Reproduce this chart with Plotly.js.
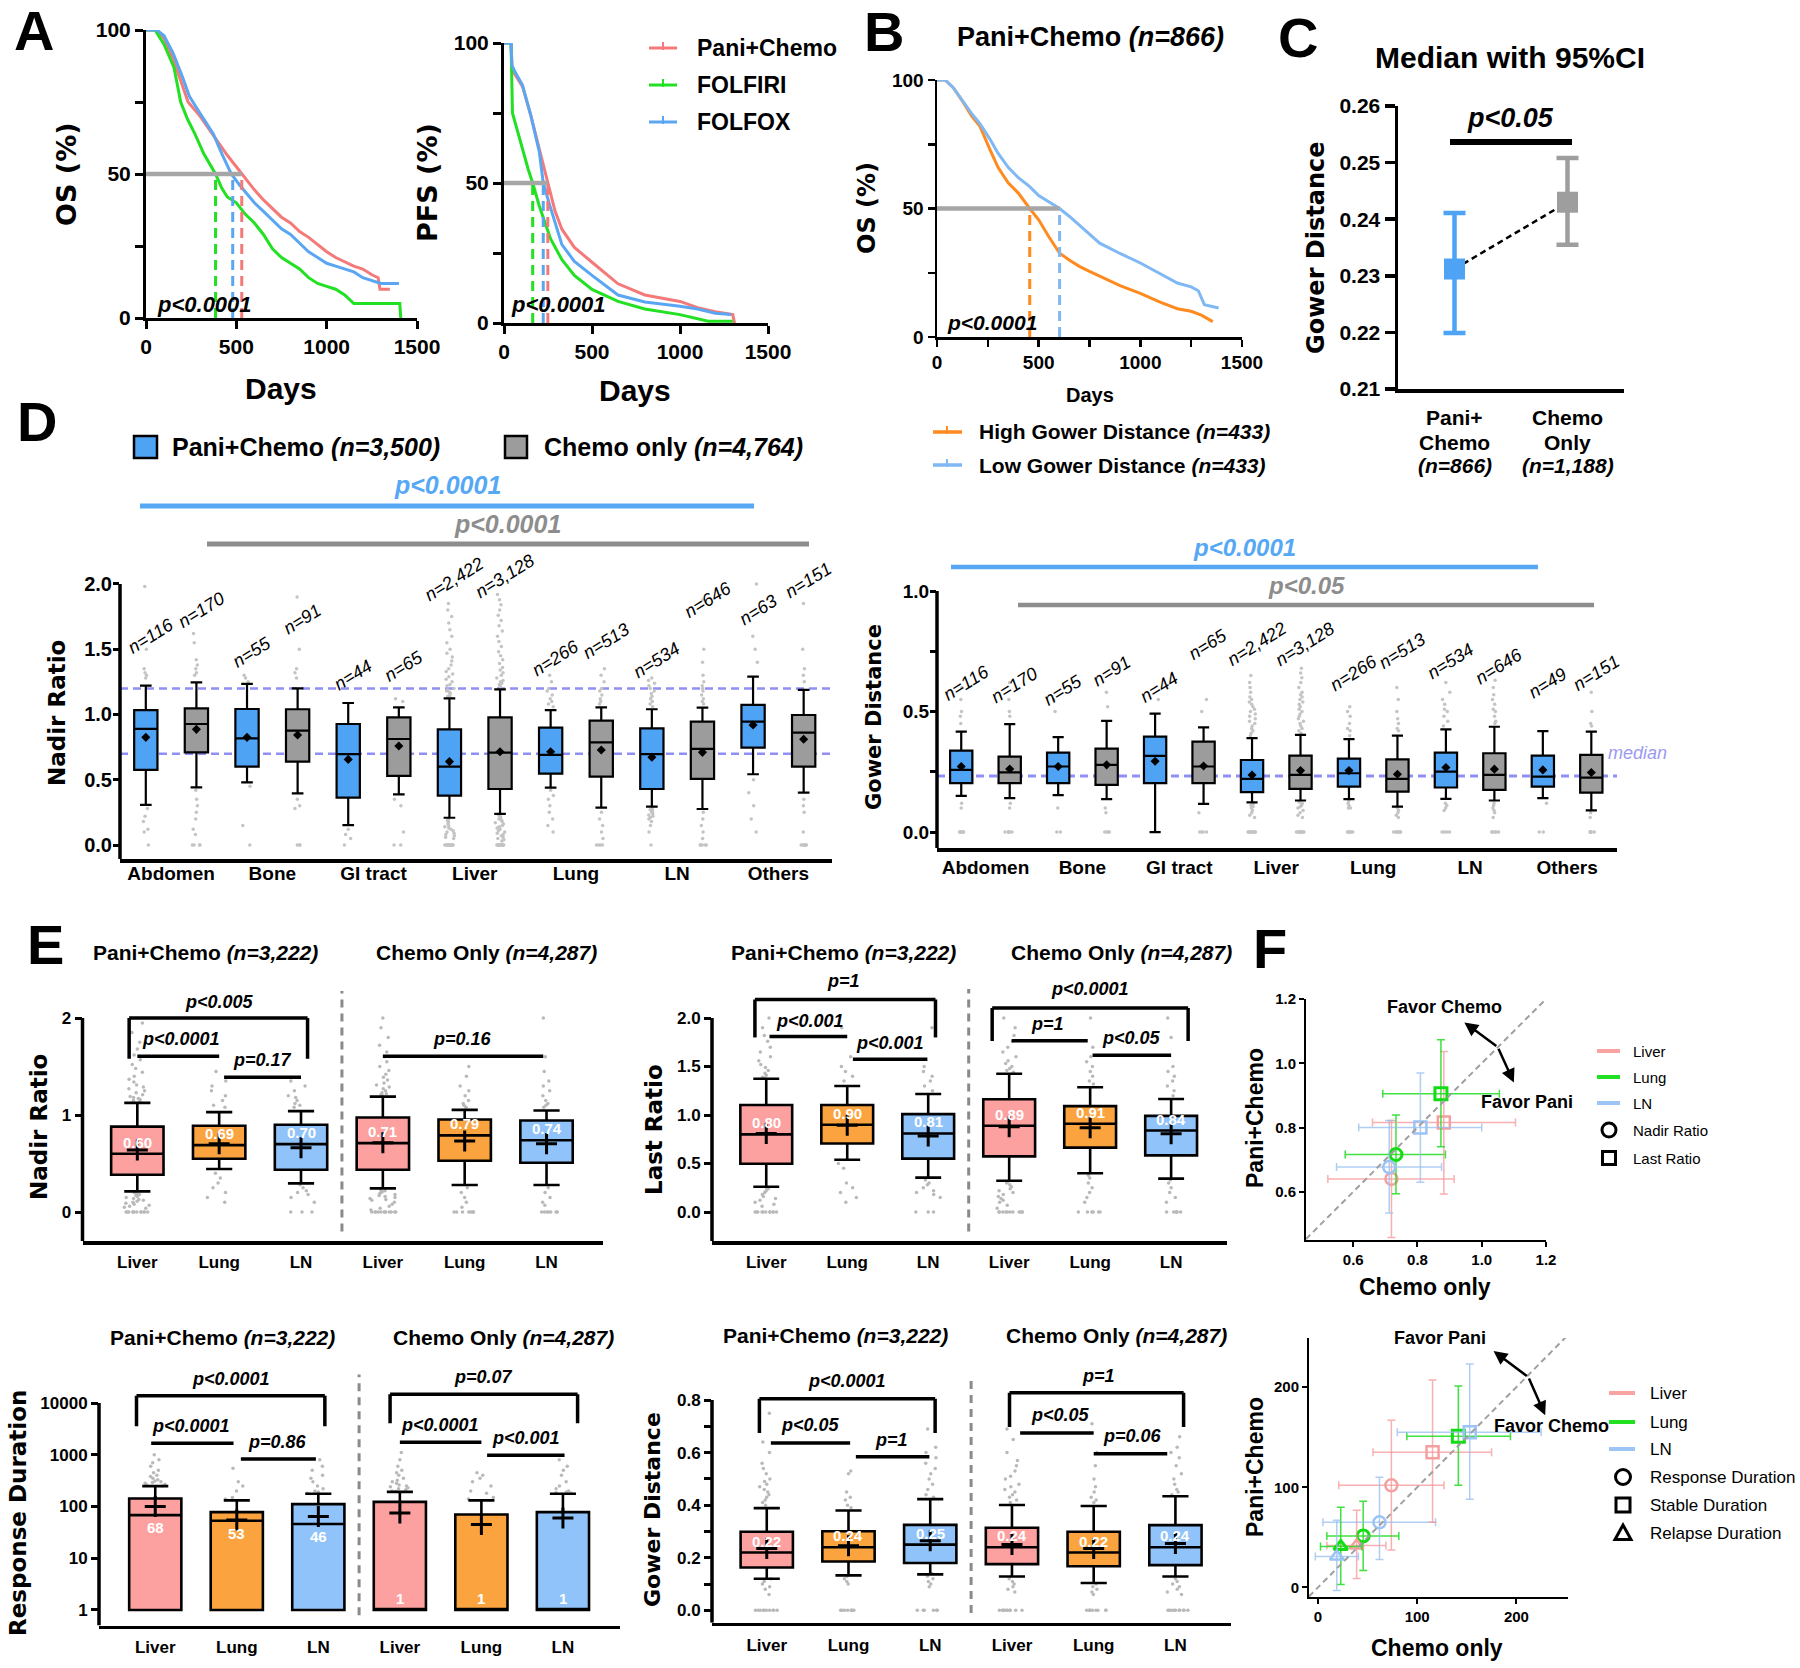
<!DOCTYPE html>
<html>
<head>
<meta charset="utf-8">
<script src="https://cdn.plot.ly/plotly-3.0.1.min.js"></script>
<style>
html,body{margin:0;padding:0;background:#ffffff;}
#chart{width:1800px;height:1668px;}
</style>
</head>
<body>
<div id="chart"></div>
<script>
// ======================= DATA =======================
// ---- Panel A: Kaplan-Meier curves (days, % event-free)
const osPaniT=[0,60,100,150,200,233,300,350,400,450,500,530,600,650,700,750,800,850,900,950,1000,1050,1100,1150,1200,1250,1285,1295,1350];
const osPaniS=[100,100,97,90,81,75,70,65.5,61,56.5,52.5,50,44.5,41,38,35,33,30,28,25.5,23,21,19.5,18,17,15,14,10,10];
const osFolfiriT=[0,50,100,155,192,230,270,320,385,420,450,500,550,600,650,700,750,800,850,900,950,1000,1050,1100,1150,1300,1405,1410];
const osFolfiriS=[100,100,95,87,75,69,64,57,50,45,42,40,36,33,29,24,21,19,17,14,12,11,10,8,5,5,5,0];
const osFolfoxT=[0,60,100,150,200,240,300,372,420,472,520,560,600,650,700,750,800,850,900,950,1000,1050,1100,1150,1200,1250,1300,1400];
const osFolfoxS=[100,100,98,92,84,77,71,64,57,50,46,43,40,37,34,31,29,26,23,21,19,18,17,16,14,13,12,12];
const osMedians=[530,385,480];           // Pani+Chemo, FOLFIRI, FOLFOX
const pfsPaniT=[0,40,45,60,105,153,201,249,290,329,400,500,648,800,1000,1100,1200,1300,1310];
const pfsPaniS=[100,100,92,89,84.5,74,62,50,40,33.5,27,21.7,14,10,7.7,5.5,4,3,0];
const pfsFolfiriT=[0,40,48,89,137,163,201,265,329,400,500,648,800,1000,1160,1300];
const pfsFolfiriS=[100,100,75,65.5,55,50,41.7,30,22.6,17,12,7.7,5,3,0.6,0.6];
const pfsFolfoxT=[0,40,45,60,105,153,201,223,260,300,329,400,500,648,800,1000,1100,1200,1290];
const pfsFolfoxS=[100,100,92,90,85,74,61,50,42,34,28,22,17,10,7.5,6,5,3.5,3];
const pfsMedians=[249,163,223];
const aNames=['Pani+Chemo','FOLFIRI','FOLFOX'];

// ---- Panel B
const bHighT=[0,40,80,123,170,211,260,300,350,400,456,500,550,603,650,700,750,800,900,1000,1100,1182,1250,1300,1356];
const bHighS=[100,100,97,92,86,82,73,66,60,56,50,45.6,39,32.6,30,27.5,25.5,23.6,20,17,13.5,11,10,8.5,6];
const bLowT=[0,40,80,123,170,211,260,300,350,400,456,500,550,603,650,700,750,800,900,1000,1100,1182,1250,1285,1315,1385];
const bLowS=[100,100,97,92,87,83,77,71.5,66,62,58.5,55,52.5,50,47,43.5,40,36.5,32.5,28.8,24.5,21,19.5,18,12.6,11.3];
const bMedians=[456,603];
const bNames=['High Gower Distance <i>(n=433)</i>','Low Gower Distance <i>(n=433)</i>'];

// ---- Panel C: median Gower distance with 95% CI
const cGroups=[['Pani+','Chemo','<i>(n=866)</i>'],['Chemo','Only','<i>(n=1,188)</i>']];
const cMedian=[0.2312,0.2430];
const cLow=[0.2199,0.2355];
const cHigh=[0.2411,0.2508];

// ---- Panel D (order: Abdomen P,C, Bone P,C, GI P,C, Liver P,C, Lung P,C, LN P,C, Others P,C)
const dSites=['Abdomen','Bone','GI tract','Liver','Lung','LN','Others'];
const dNadirN=['n=116','n=170','n=55','n=91','n=44','n=65','n=2,422','n=3,128','n=266','n=513','n=534','n=646','n=63','n=151'];
const dGowerN=['n=116','n=170','n=55','n=91','n=44','n=65','n=2,422','n=3,128','n=266','n=513','n=534','n=646','n=49','n=151'];
const dNadirQ1=[0.575,0.71,0.60,0.639,0.363,0.529,0.378,0.429,0.547,0.524,0.429,0.506,0.746,0.60];
const dNadirMed=[0.889,0.927,0.817,0.876,0.697,0.812,0.60,0.708,0.69,0.787,0.697,0.736,0.945,0.861];
const dNadirQ3=[1.034,1.047,1.042,1.04,0.927,0.978,0.886,0.978,0.899,0.953,0.894,0.945,1.073,0.996];
const dNadirLo=[0.307,0.442,0.48,0.396,0.153,0.388,0.209,0.238,0.439,0.286,0.294,0.276,0.542,0.401];
const dNadirHi=[1.221,1.246,1.234,1.20,1.088,1.055,1.124,1.193,1.034,1.055,1.04,1.052,1.29,1.188];
const dNadirMean=[0.825,0.886,0.825,0.843,0.656,0.759,0.639,0.715,0.715,0.728,0.672,0.71,0.92,0.81];
const dNadirOut=[
 [1.98,1.5,1.35,1.32,1.3,1.28,0.28,0.22,0.18,0.12,0.1,0],
 [1.62,1.55,1.42,1.38,1.35,1.32,1.3,0.42,0.35,0.3,0.25,0.2,0.12,0.08,0,0,0,0],
 [1.3,1.28,1.25,0.45,0.15,0],
 [1.9,1.5,1.35,1.32,1.28,0.35,0.3,0.28,0,0,0],
 [0.12,0.08,0.05,0],
 [1.12,1.1,0.35,0.3,0.1,0,0],
 [1.85,1.8,1.75,1.7,1.65,1.6,1.55,1.5,1.47,1.44,1.41,1.38,1.35,1.33,1.31,1.29,1.27,1.25,1.23,1.22,1.2,1.19,1.18,1.17,1.16,1.15,1.14,1.13,0.2,0.19,0.18,0.17,0.16,0.15,0.14,0.13,0.12,0.11,0.1,0.09,0.08,0.07,0.06,0.05,0,0,0,0,0,0,0,0,0,0,0,0],
 [1.92,1.88,1.84,1.8,1.76,1.72,1.68,1.64,1.6,1.56,1.52,1.48,1.45,1.42,1.39,1.36,1.34,1.32,1.3,1.28,1.26,1.25,1.24,1.23,1.22,1.21,1.2,0.23,0.22,0.21,0.2,0.19,0.18,0.17,0.16,0.15,0.14,0.13,0.12,0.11,0.1,0.09,0.08,0.07,0.06,0.05,0.04,0.03,0,0,0,0,0,0,0,0,0,0,0,0,0,0],
 [1.3,1.25,1.2,1.18,1.15,1.12,1.1,1.08,1.06,0.42,0.38,0.35,0.3,0.25,0.2,0.15,0.1],
 [1.35,1.3,1.25,1.2,1.18,1.15,1.12,1.1,1.08,0.25,0.2,0.15,0.1,0.05,0,0,0,0],
 [1.28,1.26,1.24,1.22,1.2,1.18,1.16,1.14,1.12,1.1,1.08,1.06,0.28,0.27,0.26,0.25,0.24,0.23,0.22,0.21,0.2,0.18,0.15,0.1,0],
 [1.88,1.5,1.4,1.3,1.25,1.22,1.2,1.18,1.15,1.12,1.1,1.08,0.25,0.2,0.15,0.1,0.05,0,0,0,0,0],
 [2.0,1.6,1.5,1.4,0.5,0.4,0.3,0.2,0.1],
 [1.85,1.5,1.35,1.3,1.25,0.35,0.3,0.25,0.1,0,0,0,0,0,0,0]
];
const dGowerQ1=[0.203,0.203,0.203,0.196,0.203,0.203,0.166,0.179,0.189,0.168,0.185,0.175,0.189,0.164];
const dGowerMed=[0.258,0.248,0.272,0.279,0.316,0.272,0.221,0.237,0.244,0.221,0.251,0.237,0.23,0.226];
const dGowerQ3=[0.338,0.313,0.33,0.346,0.396,0.375,0.299,0.317,0.305,0.302,0.33,0.327,0.317,0.32];
const dGowerLo=[0.15,0.141,0.153,0.137,0.0,0.117,0.123,0.131,0.137,0.106,0.138,0.131,0.141,0.09];
const dGowerHi=[0.417,0.448,0.394,0.461,0.491,0.434,0.39,0.403,0.386,0.40,0.426,0.437,0.419,0.417];
const dGowerMean=[0.272,0.262,0.272,0.279,0.294,0.274,0.237,0.255,0.255,0.24,0.268,0.261,0.258,0.247];
const dGowerAllMedian=0.233;
const dGowerOut=[
 [0.6,0.55,0.5,0.48,0.45,0.12,0.1,0,0,0,0,0,0],
 [0.62,0.55,0.5,0.48,0.12,0.1,0,0,0,0,0,0],
 [0.55,0.5,0.1,0,0],
 [0.58,0.52,0.1,0.08,0,0,0,0],
 [0.55],
 [0.55,0.5,0.08,0,0,0,0],
 [0.65,0.62,0.6,0.58,0.56,0.55,0.54,0.53,0.52,0.51,0.5,0.49,0.48,0.47,0.46,0.45,0.44,0.43,0.42,0.41,0.4,0.12,0.115,0.11,0.105,0.1,0.09,0.08,0.07,0.06,0,0,0,0,0,0,0,0,0,0],
 [0.68,0.66,0.64,0.62,0.6,0.58,0.57,0.56,0.55,0.54,0.53,0.52,0.51,0.5,0.49,0.48,0.47,0.46,0.45,0.44,0.43,0.42,0.41,0.125,0.12,0.115,0.11,0.105,0.1,0.09,0.08,0.07,0.06,0,0,0,0,0,0,0,0,0,0],
 [0.52,0.5,0.48,0.45,0.43,0.42,0.4,0.13,0.12,0.11,0.1,0.1,0,0,0,0,0,0],
 [0.6,0.55,0.5,0.47,0.45,0.43,0.42,0.1,0.09,0.08,0.07,0.06,0,0,0,0,0,0,0,0],
 [0.62,0.58,0.55,0.53,0.51,0.5,0.48,0.46,0.44,0.12,0.11,0.1,0.09,0,0,0,0],
 [0.63,0.6,0.57,0.55,0.53,0.51,0.5,0.48,0.46,0.45,0.12,0.11,0.1,0.09,0.08,0.06,0,0,0,0,0,0],
 [0.12,0,0],
 [0.58,0.5,0.45,0.44,0.08,0.06,0,0,0,0,0,0]
];

// ---- Panel E (order: Pani Liver, Lung, LN, Chemo Liver, Lung, LN)
const eSites=['Liver','Lung','LN','Liver','Lung','LN'];
const eNadirQ1=[0.384,0.549,0.436,0.436,0.528,0.508];
const eNadirMed=[0.60,0.69,0.70,0.71,0.79,0.74];
const eNadirQ3=[0.88,0.89,0.90,0.974,0.954,0.943];
const eNadirLo=[0.213,0.443,0.295,0.244,0.278,0.278];
const eNadirHi=[1.125,1.03,1.04,1.19,1.053,1.046];
const eNadirMean=[0.64,0.703,0.662,0.714,0.731,0.703];
const eNadirOut=[
 [1.95,1.85,1.75,1.68,1.62,1.57,1.52,1.48,1.44,1.4,1.37,1.34,1.31,1.29,1.27,1.25,1.23,1.21,1.19,1.18,1.17,1.16,1.15,1.14,1.13,0.2,0.19,0.18,0.17,0.16,0.15,0.14,0.13,0.12,0.11,0.1,0.09,0.08,0.07,0.06,0.05,0.04,0,0,0,0,0,0,0,0,0,0,0,0],
 [1.45,1.35,1.3,1.25,1.2,1.15,1.1,1.08,0.4,0.35,0.3,0.25,0.2,0.15,0.1],
 [1.35,1.3,1.25,1.2,1.18,1.15,1.12,1.1,1.08,0.28,0.25,0.22,0.2,0.18,0.15,0.1,0,0,0],
 [2.0,1.9,1.8,1.72,1.65,1.6,1.55,1.5,1.46,1.42,1.39,1.36,1.33,1.31,1.29,1.27,1.25,1.23,1.22,1.21,1.2,0.23,0.22,0.21,0.2,0.19,0.18,0.17,0.16,0.15,0.14,0.13,0.12,0.1,0.08,0.06,0.04,0.02,0,0,0,0,0,0,0,0,0,0,0,0],
 [1.5,1.4,1.3,1.25,1.2,1.15,1.12,1.1,1.08,0.25,0.2,0.15,0.1,0.05,0,0,0,0,0,0,0],
 [2.0,1.6,1.45,1.35,1.3,1.25,1.2,1.15,1.12,1.1,1.08,0.25,0.2,0.15,0.1,0.07,0,0,0,0,0,0,0]
];
const eLastQ1=[0.497,0.706,0.55,0.574,0.664,0.584];
const eLastMed=[0.80,0.90,0.81,0.89,0.91,0.84];
const eLastQ3=[1.103,1.103,1.009,1.162,1.092,0.991];
const eLastLo=[0.261,0.539,0.355,0.323,0.40,0.344];
const eLastHi=[1.374,1.30,1.217,1.426,1.287,1.165];
const eLastMean=[0.81,0.894,0.783,0.88,0.87,0.807];
const eLastOut=[
 [2.0,1.9,1.82,1.76,1.7,1.65,1.6,1.56,1.52,1.49,1.46,1.43,1.41,1.39,1.38,0.25,0.24,0.22,0.2,0.18,0.16,0.14,0.12,0.1,0.08,0.06,0,0,0,0,0,0,0,0,0,0,0],
 [1.9,1.6,1.5,1.45,1.4,1.35,0.5,0.45,0.3,0.25,0.2,0.15,0.1],
 [1.9,1.5,1.45,1.4,1.35,1.3,1.25,0.33,0.3,0.28,0.25,0.22,0.2,0.18,0.15,0,0,0],
 [2.0,1.9,1.82,1.76,1.7,1.65,1.6,1.56,1.53,1.5,1.48,1.46,1.44,0.31,0.3,0.28,0.26,0.24,0.22,0.2,0.18,0.16,0.14,0.12,0.1,0.07,0.04,0,0,0,0,0,0,0,0,0,0,0],
 [2.0,1.7,1.6,1.55,1.5,1.45,1.4,1.35,1.32,0.38,0.35,0.3,0.25,0.2,0.15,0.1,0,0,0,0,0,0],
 [2.0,1.8,1.5,1.45,1.4,1.35,1.3,1.25,1.2,0.33,0.3,0.25,0.2,0.15,0.1,0,0,0,0,0,0]
];
const eRespQ1=[1,1,1,1,1,1];
const eRespMed=[68,53,46,1,1,1];
const eRespQ3=[143,78,111,123,70,78];
const eRespLo=[1,1,1,1,1,1];
const eRespHi=[247,131,176,192,131,176];
const eRespMean=[100,55,64,75,45,60];
const eRespOut=[
 [1000,800,700,600,500,450,400,380,350,330,310,300,290,280,270,260,250],
 [550,300,250,200,150,140],
 [800,600,500,400,350,300,250,220,200,190,180],
 [1100,800,600,500,450,400,350,320,300,280,260,250,240,230,220,210,200,195],
 [450,400,350,300,250,200,180,150,140],
 [800,600,500,400,300,250,220,200,190,185,180]
];
const eGowerQ1=[0.163,0.186,0.18,0.176,0.168,0.172];
const eGowerMed=[0.22,0.24,0.25,0.24,0.22,0.24];
const eGowerQ3=[0.299,0.301,0.325,0.314,0.299,0.324];
const eGowerLo=[0.12,0.133,0.137,0.129,0.104,0.129];
const eGowerHi=[0.389,0.38,0.423,0.401,0.397,0.434];
const eGowerMean=[0.235,0.246,0.265,0.25,0.235,0.254];
const eGowerOut=[
 [0.75,0.64,0.6,0.56,0.54,0.52,0.5,0.49,0.48,0.47,0.46,0.45,0.44,0.43,0.42,0.41,0.4,0.12,0.11,0.1,0.09,0.08,0.06,0,0,0,0,0,0,0,0,0,0],
 [0.53,0.52,0.45,0.43,0.42,0.4,0.39,0.13,0.12,0.11,0.1,0,0,0,0,0,0,0,0],
 [0.69,0.62,0.6,0.58,0.56,0.54,0.52,0.5,0.48,0.46,0.44,0.43,0.14,0.13,0.12,0.11,0.1,0.09,0,0,0,0,0,0],
 [0.69,0.65,0.6,0.57,0.55,0.53,0.51,0.5,0.48,0.47,0.46,0.45,0.44,0.43,0.42,0.41,0.12,0.11,0.1,0.09,0.08,0.07,0,0,0,0,0,0,0,0,0,0],
 [0.71,0.6,0.55,0.5,0.47,0.45,0.43,0.42,0.41,0.1,0.09,0.08,0.07,0.06,0,0,0,0,0,0,0,0,0],
 [0.66,0.62,0.6,0.58,0.55,0.52,0.5,0.48,0.46,0.45,0.44,0.12,0.11,0.1,0.09,0.08,0.07,0.06,0,0,0,0,0,0,0,0,0,0]
];

// ---- Panel F (sites Liver, Lung, LN) x = Chemo only, y = Pani+Chemo
const fSites=['Liver','Lung','LN'];
const fNadirChemo=[0.719,0.733,0.712], fNadirChemoLo=[0.521,0.575,0.548], fNadirChemoHi=[0.914,0.887,0.875];
const fNadirPani=[0.640,0.716,0.677],  fNadirPaniLo=[0.458,0.594,0.534],  fNadirPaniHi=[0.822,0.839,0.822];
const fLastChemo=[0.882,0.873,0.809],  fLastChemoLo=[0.660,0.692,0.617],  fLastChemoHi=[1.105,1.055,1.000];
const fLastPani=[0.816,0.905,0.800],   fLastPaniLo=[0.593,0.740,0.630],   fLastPaniHi=[1.037,1.073,0.970];
const fRespChemo=[74,45.6,62],   fRespChemoLo=[21,9,5],      fRespChemoHi=[127,81.5,118.5];
const fRespPani=[102,51.5,65],   fRespPaniLo=[37.5,17,28],   fRespPaniHi=[167,86,110];
const fStableChemo=[115.5,141.5,153], fStableChemoLo=[55.5,89.6,80], fStableChemoHi=[175,194,225];
const fStablePani=[135,151,155],      fStablePaniLo=[65,102,88],     fStablePaniHi=[207,201,223];
const fRelapseChemo=[39,23,19], fRelapseChemoLo=[9,2.6,-2.6], fRelapseChemoHi=[68.5,44.4,40.7];
const fRelapsePani=[42,41,31],  fRelapsePaniLo=[9,3,-3],      fRelapsePaniHi=[77,80,67];

// ======================= DRAWING =======================
const W=1800,H=1668;
const FB='Liberation Sans, Arial, Helvetica, sans-serif';
const FT='DejaVu Sans, Verdana, sans-serif';
const traces=[],shapes=[],ann=[];
const xa=n=>n===1?'x':'x'+n, ya=n=>n===1?'y':'y'+n;
const tf=s=>({family:FB,size:s,color:'#000',weight:'bold'});
const layout={width:W,height:H,margin:{l:0,r:0,t:0,b:0,pad:0},paper_bgcolor:'#ffffff',plot_bgcolor:'rgba(0,0,0,0)',
  showlegend:false,boxmode:'overlay',font:{family:FB,color:'#000'},shapes:shapes,annotations:ann};

function axes(n,xpx,xr,ypx,yr,xo,yo){
  const id=n===1?'':String(n);
  const base={showgrid:false,zeroline:false,showline:true,linecolor:'#000',linewidth:3,ticks:'outside',tickcolor:'#000',
    tickwidth:3,ticklen:8,fixedrange:true,tickfont:tf(20)};
  layout['xaxis'+id]=Object.assign({},base,{domain:[xpx[0]/W,xpx[1]/W],range:xr,anchor:ya(n)},xo||{});
  layout['yaxis'+id]=Object.assign({},base,{domain:[1-ypx[1]/H,1-ypx[0]/H],range:yr,anchor:xa(n)},yo||{});
}
function T(text,x,y,size,o){o=o||{};ann.push({text:text,xref:'paper',yref:'paper',x:x/W,y:1-y/H,showarrow:false,
  xanchor:o.xa||'center',yanchor:o.ya||'middle',textangle:o.angle||0,
  font:{family:o.family||FB,size:size,color:o.color||'#000',weight:o.weight||'bold',style:o.style||'normal'}});}
function L(x0,y0,x1,y1,color,width,dash){shapes.push({type:'line',xref:'paper',yref:'paper',x0:x0/W,y0:1-y0/H,x1:x1/W,y1:1-y1/H,
  line:{color:color,width:width,dash:dash||'solid'}});}
function yLine(n,y0,y1,w){shapes.push({type:'line',xref:xa(n)+' domain',yref:ya(n),x0:0,x1:0,y0:y0,y1:y1,line:{color:'#000',width:w}});}
function line(n,x,y,color,width,dash){traces.push({type:'scatter',mode:'lines',x:x,y:y,xaxis:xa(n),yaxis:ya(n),
  line:{color:color,width:width,dash:dash||'solid'},hoverinfo:'skip'});}

// Panel letters
[['A',34,31],['B',884,32],['C',1298,38],['D',37,422],['E',45,944],['F',1270,948]].forEach(p=>T(p[0],p[1],p[2],56));

// ---------- Panel A ----------
const aCols=['#f47a7a','#22e022','#5aa6f2'];
const aTick={tickvals:[0,500,1000,1500],tickfont:tf(21)};
const aYTick={tickvals:[0,25,50,75,100],ticktext:['0','','50','','100'],tickfont:tf(21)};
axes(1,[146,417],[0,1500],[30,318],[0,100],aTick,aYTick);
axes(2,[504,768],[0,1500],[43,323],[0,100],aTick,aYTick);
function kmPanel(n,curves,meds,cols){
  curves.forEach((c,i)=>line(n,c[0],c[1],cols[i],3));
  line(n,[0,Math.max(...meds)],[50,50],'#a6a6a6',4.5);
  meds.forEach((m,i)=>line(n,[m,m],[0,50],cols[i],3,'10px,6px'));
}
kmPanel(1,[[osPaniT,osPaniS],[osFolfiriT,osFolfiriS],[osFolfoxT,osFolfoxS]],osMedians,aCols);
kmPanel(2,[[pfsPaniT,pfsPaniS],[pfsFolfiriT,pfsFolfiriS],[pfsFolfoxT,pfsFolfoxS]],pfsMedians,aCols);
T('OS (%)',66,174,27,{angle:-90,family:FT});
T('PFS (%)',428,183,27,{angle:-90,family:FT});
T('Days',281,388,30); T('Days',635,390,30);
T('p&lt;0.0001',204,305,22,{style:'italic'}); T('p&lt;0.0001',558,305,22,{style:'italic'});
aNames.forEach((nm,i)=>{const y=[48,85,122][i];L(649,y,677,y,aCols[i],3);L(663,y-6,663,y+2,aCols[i],2);T(nm,695,y,23,{xa:'left'});});

// ---------- Panel B ----------
const bCols=['#ff8a1f','#7fb8f5'];
const bAx={linewidth:2.5,tickwidth:2.5,ticklen:7,tickfont:tf(19)};
axes(3,[937,1242],[0,1500],[80,337],[0,100],
  Object.assign({},bAx,{tickvals:[0,250,500,750,1000,1250,1500],ticktext:['0','','500','','1000','','1500']}),
  Object.assign({},bAx,{tickvals:[0,25,50,75,100],ticktext:['0','','50','','100']}));
kmPanel(3,[[bHighT,bHighS],[bLowT,bLowS]],bMedians,bCols);
T('Pani+Chemo <i>(n=866)</i>',1090,37,27);
T('OS (%)',867,208,24,{angle:-90,family:FT});
T('Days',1090,395,20);
T('p&lt;0.0001',992,322,21,{style:'italic'});
bNames.forEach((nm,i)=>{const y=[432,465][i];L(933,y,962,y,bCols[i],3.5);L(947,y-6,947,y+2,bCols[i],2);T(nm,977,y,21,{xa:'left'});});

// ---------- Panel C ----------
axes(4,[1398,1624],[-0.5,1.5],[106,389],[0.21,0.26],{showticklabels:false,ticks:'',linewidth:3.5},
  {tickvals:[0.21,0.22,0.23,0.24,0.25,0.26],tickformat:'.2f',tickfont:tf(21),linewidth:3.5,tickwidth:3.5,ticklen:10});
const cCols=['#4ea3f5','#9e9e9e'];
line(4,[0,1],cMedian,'#000',2.5,'6px,4px');
cMedian.forEach((m,i)=>traces.push({type:'scatter',mode:'markers',x:[i],y:[m],xaxis:'x4',yaxis:'y4',
  marker:{symbol:'square',size:21,color:cCols[i]},hoverinfo:'skip',
  error_y:{type:'data',symmetric:false,array:[cHigh[i]-m],arrayminus:[m-cLow[i]],color:cCols[i],thickness:4.5,width:11}}));
T('Median with 95%CI',1510,57,30);
T('Gower Distance',1316,248,24,{angle:-90,family:FT});
T('p&lt;0.05',1510,118,27,{style:'italic'});
L(1450,142,1572,142,'#000',6);
cGroups.forEach((lines,i)=>lines.forEach((t,j)=>ann.push({xref:'x4',yref:'paper',x:i,y:1-[417,442,465][j]/H,text:t,
  showarrow:false,xanchor:'center',yanchor:'middle',font:tf(21)})));

// ---------- Panel D ----------
const dBlue='#4ea3f5',dGray='#9c9c9c',pBlue='#56a8f4',pGray='#8d8d8d',lav='#8f8ff5';
function boxSet(n,q1,med,q3,lo,hi,mean,out,fills,bw,lw,ptCol,ptSize,meanMarker,jit){
  const X=xa(n),Y=ya(n);
  traces.push({type:'box',xaxis:X,yaxis:Y,x:out.flatMap((a,i)=>a.map(()=>i)),y:out.flat(),boxpoints:'all',jitter:jit,pointpos:0,
    width:bw*0.85,fillcolor:'rgba(0,0,0,0)',line:{color:'rgba(0,0,0,0)',width:0},marker:{color:ptCol,size:ptSize},hoverinfo:'skip'});
  q1.forEach((v,i)=>traces.push({type:'box',xaxis:X,yaxis:Y,x:[i],q1:[v],median:[med[i]],q3:[q3[i]],lowerfence:[lo[i]],upperfence:[hi[i]],
    width:bw,whiskerwidth:0.5,fillcolor:fills(i),line:{color:'#000',width:lw},boxpoints:false,hoverinfo:'skip'}));
  traces.push({type:'scatter',mode:'markers',xaxis:X,yaxis:Y,x:mean.map((_,i)=>i),y:mean,marker:meanMarker,hoverinfo:'skip'});
}
const dTickX={tickvals:dSites.map((_,i)=>2*i+0.5),ticktext:dSites,ticks:'',tickfont:tf(19),linewidth:3.5};
axes(5,[120,832],[-0.51,13.56],[466.5,859.1],[-0.108,2.9],Object.assign({},dTickX,{ticklabelstandoff:-5}),
  {showline:false,tickvals:[0,0.5,1,1.5,2],ticktext:['0.0','0.5','1.0','1.5','2.0'],tickfont:tf(20),ticklen:6,ticklabelstandoff:-3});
yLine(5,-0.108,2.0,3.5);
[0.7,1.2].forEach(v=>shapes.push({type:'line',layer:'below',xref:'x5 domain',yref:'y5',x0:0,x1:1,y0:v,y1:v,line:{color:lav,width:2.5,dash:'8px,5px'}}));
boxSet(5,dNadirQ1,dNadirMed,dNadirQ3,dNadirLo,dNadirHi,dNadirMean,dNadirOut,i=>i%2?dGray:dBlue,0.46,2.2,'#c4c4c4',3.5,
  {symbol:'diamond',size:7,color:'#000'},0.5);
const dNadirNY=[1.6,1.8,1.48,1.73,1.3,1.37,2.04,2.06,1.43,1.56,1.42,1.88,1.8,2.03];
dNadirN.forEach((t,i)=>ann.push({xref:'x5',yref:'y5',x:i+0.1,y:dNadirNY[i],text:t,showarrow:false,textangle:-32,
  font:{family:FB,size:18,color:'#000',style:'italic',weight:'normal'}}));
T('Nadir Ratio',57,713,23,{angle:-90,family:FT});
shapes.push({type:'rect',xref:'paper',yref:'paper',x0:134/W,x1:157/W,y0:1-458/H,y1:1-436/H,fillcolor:dBlue,line:{color:'#000',width:2.5}});
shapes.push({type:'rect',xref:'paper',yref:'paper',x0:505/W,x1:527/W,y0:1-458/H,y1:1-436/H,fillcolor:dGray,line:{color:'#000',width:2.5}});
T('Pani+Chemo <i>(n=3,500)</i>',170,447,25,{xa:'left'});
T('Chemo only <i>(n=4,764)</i>',542,447,25,{xa:'left'});
L(140,506,754,506,pBlue,5); T('p&lt;0.0001',447,485,25,{style:'italic',color:pBlue});
L(207,544,809,544,pGray,5); T('p&lt;0.0001',507,524,25,{style:'italic',color:pGray});

axes(6,[937,1617],[-0.5,13.53],[530.75,848],[-0.066,1.25],Object.assign({},dTickX,{ticklabelstandoff:0}),
  {showline:false,tickvals:[0,0.25,0.5,0.75,1],ticktext:['0.0','','0.5','','1.0'],tickfont:tf(19),ticklen:6,ticklabelstandoff:-3});
yLine(6,-0.066,1.0,3.5);
shapes.push({type:'line',layer:'below',xref:'x6 domain',yref:'y6',x0:0,x1:1,y0:dGowerAllMedian,y1:dGowerAllMedian,line:{color:lav,width:3,dash:'8px,5px'}});
boxSet(6,dGowerQ1,dGowerMed,dGowerQ3,dGowerLo,dGowerHi,dGowerMean,dGowerOut,i=>i%2?dGray:dBlue,0.46,2.2,'#c4c4c4',3.5,
  {symbol:'diamond',size:7,color:'#000'},0.5);
const dGowerNY=[0.62,0.61,0.59,0.67,0.6,0.78,0.78,0.78,0.66,0.75,0.71,0.69,0.62,0.66];
dGowerN.forEach((t,i)=>ann.push({xref:'x6',yref:'y6',x:i+0.1,y:dGowerNY[i],text:t,showarrow:false,textangle:-32,
  font:{family:FB,size:18,color:'#000',style:'italic',weight:'normal'}}));
T('Gower Distance',874,717,21,{angle:-90,family:FT});
T('median',1606,753,18,{xa:'left',style:'italic',weight:'normal',color:'#9a9af2'});
L(951,567,1538,567,pBlue,4.5); T('p&lt;0.0001',1244,548,24,{style:'italic',color:pBlue});
L(1018,605,1594,605,pGray,4.5); T('p&lt;0.05',1306,585,24,{style:'italic',color:pGray});

// ---------- Panel E ----------
const eFill=['#fca0a0','#fba43f','#90c3f9'];
const eTickX={tickvals:[0,1,2,3,4,5],ticktext:eSites,ticks:'',tickfont:tf(17),linewidth:3.5};
const eY={showline:false,tickfont:tf(17),tickwidth:3,ticklen:7};
const plusM={symbol:'cross-thin',size:15,line:{width:3,color:'#000'}};
function ePanel(n,q1,med,q3,lo,hi,mean,out,log,br,divY,yTop,yBot){
  boxSet(n,q1,med,q3,lo,hi,mean,out,i=>eFill[i%3],0.64,2.6,'#b9b9b9',3.5,plusM,0.6);
  yLine(n,yBot,yTop,3.5);
  shapes.push({type:'line',xref:xa(n),yref:ya(n),x0:2.5,x1:2.5,y0:divY[0],y1:divY[1],line:{color:'#8a8a8a',width:3,dash:'8px,6px'}});
  med.forEach((m,i)=>{const below=log&&m>q1[i];
    ann.push({xref:xa(n),yref:ya(n),x:i,y:log?Math.log10(m):m,text:log?String(Math.round(m)):m.toFixed(2),showarrow:false,
      xanchor:'center',yanchor:below?'top':'bottom',yshift:below?-2:1,font:{family:FB,size:15,color:'#fff',weight:'bold'}});});
  const f=v=>log?Math.pow(10,v):v;
  br.forEach(b=>{
    const ln=(x0,y0,x1,y1)=>shapes.push({type:'line',xref:xa(n),yref:ya(n),x0:x0,x1:x1,y0:f(y0),y1:f(y1),line:{color:'#000',width:3.5}});
    ln(b.x0,b.y,b.x1,b.y);
    if(b.leg!==undefined){ln(b.x0,b.leg,b.x0,b.y);ln(b.x1,b.leg,b.x1,b.y);}
    ann.push({xref:xa(n),yref:ya(n),x:b.tx,y:b.ty,text:b.t,showarrow:false,xanchor:'center',yanchor:'middle',
      font:{family:FB,size:18,color:'#000',weight:'bold',style:'italic'}});
  });
}
axes(7,[82.5,603],[-0.67,5.69],[964.7,1241.1],[-0.3,2.55],Object.assign({},eTickX,{ticklabelstandoff:3}),
  Object.assign({},eY,{tickvals:[0,1,2],ticktext:['0','1','2']}));
ePanel(7,eNadirQ1,eNadirMed,eNadirQ3,eNadirLo,eNadirHi,eNadirMean,eNadirOut,false,[
  {x0:-0.1,x1:2.08,y:2.0,leg:1.58,t:'p&lt;0.005',tx:1.0,ty:2.17},
  {x0:0,x1:1.0,y:1.605,t:'p&lt;0.0001',tx:0.53,ty:1.78},
  {x0:1.06,x1:2.0,y:1.39,t:'p=0.17',tx:1.53,ty:1.57},
  {x0:3.0,x1:4.96,y:1.605,t:'p=0.16',tx:3.97,ty:1.78}],[-0.2,2.28],2,-0.3);
axes(8,[712,1227],[-0.67,5.69],[964.7,1241.1],[-0.3,2.55],Object.assign({},eTickX,{ticklabelstandoff:3}),
  Object.assign({},eY,{tickvals:[0,0.5,1,1.5,2],ticktext:['0.0','0.5','1.0','1.5','2.0']}));
ePanel(8,eLastQ1,eLastMed,eLastQ3,eLastLo,eLastHi,eLastMean,eLastOut,false,[
  {x0:-0.14,x1:2.09,y:2.19,leg:1.80,t:'p=1',tx:0.95,ty:2.38},
  {x0:0.04,x1:1.0,y:1.81,t:'p&lt;0.001',tx:0.54,ty:1.97},
  {x0:1.07,x1:1.99,y:1.576,t:'p&lt;0.001',tx:1.53,ty:1.74},
  {x0:2.79,x1:5.21,y:2.104,leg:1.763,t:'p&lt;0.0001',tx:4.0,ty:2.3},
  {x0:3.03,x1:3.97,y:1.767,t:'p=1',tx:3.47,ty:1.94},
  {x0:4.03,x1:5.0,y:1.617,t:'p&lt;0.05',tx:4.51,ty:1.79}],[-0.2,2.3],2,-0.3);
axes(9,[99,620],[-0.69,5.70],[1364.2,1625.5],[-0.3,4.75],Object.assign({},eTickX,{ticklabelstandoff:4}),
  Object.assign({},eY,{type:'log',tickvals:[1,10,100,1000,10000],ticktext:['1','10','100','1000','10000']}));
ePanel(9,eRespQ1,eRespMed,eRespQ3,eRespLo,eRespHi,eRespMean,eRespOut,true,[
  {x0:-0.23,x1:2.08,y:4.14,leg:3.55,t:'p&lt;0.0001',tx:0.93,ty:4.47},
  {x0:-0.05,x1:0.96,y:3.22,t:'p&lt;0.0001',tx:0.44,ty:3.56},
  {x0:1.05,x1:1.97,y:2.92,t:'p=0.86',tx:1.5,ty:3.25},
  {x0:2.88,x1:5.18,y:4.17,leg:3.61,t:'p=0.07',tx:4.03,ty:4.51},
  {x0:3.0,x1:4.0,y:3.24,t:'p&lt;0.0001',tx:3.49,ty:3.58},
  {x0:4.07,x1:5.02,y:2.99,t:'p&lt;0.001',tx:4.55,ty:3.33}],[Math.pow(10,-0.1),Math.pow(10,4.55)],10000,Math.pow(10,-0.3));
axes(10,[712,1231],[-0.67,5.68],[1360.6,1622.7],[-0.047,0.95],Object.assign({},eTickX,{ticklabelstandoff:4}),
  Object.assign({},eY,{tickvals:[0,0.1,0.2,0.3,0.4,0.5,0.6,0.7,0.8],ticktext:['0.0','','0.2','','0.4','','0.6','','0.8']}));
ePanel(10,eGowerQ1,eGowerMed,eGowerQ3,eGowerLo,eGowerHi,eGowerMean,eGowerOut,false,[
  {x0:-0.09,x1:2.06,y:0.805,leg:0.675,t:'p&lt;0.0001',tx:0.98,ty:0.872},
  {x0:0.05,x1:1.02,y:0.637,t:'p&lt;0.05',tx:0.53,ty:0.704},
  {x0:1.09,x1:1.99,y:0.584,t:'p=1',tx:1.53,ty:0.647},
  {x0:2.97,x1:5.1,y:0.828,leg:0.697,t:'p=1',tx:4.06,ty:0.89},
  {x0:3.1,x1:4.0,y:0.675,t:'p&lt;0.05',tx:3.59,ty:0.742},
  {x0:4.0,x1:4.9,y:0.596,t:'p=0.06',tx:4.47,ty:0.662}],[-0.01,0.895],0.8,-0.047);
const ePT='Pani+Chemo <i>(n=3,222)</i>', eCT='Chemo Only <i>(n=4,287)</i>';
T(ePT,205,952,21); T(eCT,486,952,21); T(ePT,843,952,21); T(eCT,1121,952,21);
T(ePT,222,1337,21); T(eCT,503,1337,21); T(ePT,835,1335,21); T(eCT,1116,1335,21);
T('Nadir Ratio',39,1127,23,{angle:-90,family:FT});
T('Last Ratio',654,1130,23,{angle:-90,family:FT});
T('Response Duration',18,1513,23,{angle:-90,family:FT});
T('Gower Distance',652,1510,22,{angle:-90,family:FT});

// ---------- Panel F ----------
const fCol=['#f5a0a0','#14dc14','#9cc3f5'];
const fErr=['rgba(245,150,150,0.75)','rgba(30,220,30,0.85)','rgba(150,190,240,0.75)'];
const fAx={linewidth:2,tickwidth:2,ticklen:5,tickfont:tf(15)};
axes(11,[1306,1546],[0.453,1.2],[999,1240],[0.45,1.2],Object.assign({},fAx,{tickvals:[0.6,0.8,1.0,1.2],tickformat:'.1f'}),
  Object.assign({},fAx,{tickvals:[0.6,0.8,1.0,1.2],tickformat:'.1f'}));
axes(12,[1309,1568],[-9,252],[1338,1597],[-9.5,249],Object.assign({},fAx,{tickvals:[0,100,200]}),
  Object.assign({},fAx,{tickvals:[0,100,200]}));
shapes.push({type:'line',xref:'x11',yref:'y11',x0:0.453,y0:0.453,x1:1.2,y1:1.2,line:{color:'#a0a0a0',width:2,dash:'6px,4px'}});
shapes.push({type:'line',xref:'x12',yref:'y12',x0:-9,y0:-9,x1:252,y1:252,line:{color:'#a0a0a0',width:2,dash:'6px,4px'}});
function fPts(n,xv,xlo,xhi,yv,ylo,yhi,sym){
  xv.forEach((x,i)=>traces.push({type:'scatter',mode:'markers',xaxis:xa(n),yaxis:ya(n),x:[x],y:[yv[i]],hoverinfo:'skip',
    marker:{symbol:sym,size:12,color:fCol[i],line:{color:fCol[i],width:i===1?3:2.5}},
    error_x:{type:'data',symmetric:false,array:[xhi[i]-x],arrayminus:[x-xlo[i]],color:fErr[i],thickness:1.5,width:4},
    error_y:{type:'data',symmetric:false,array:[yhi[i]-yv[i]],arrayminus:[yv[i]-ylo[i]],color:fErr[i],thickness:1.5,width:4}}));
}
fPts(11,fNadirChemo,fNadirChemoLo,fNadirChemoHi,fNadirPani,fNadirPaniLo,fNadirPaniHi,'circle-open');
fPts(11,fLastChemo,fLastChemoLo,fLastChemoHi,fLastPani,fLastPaniLo,fLastPaniHi,'square-open');
fPts(12,fRespChemo,fRespChemoLo,fRespChemoHi,fRespPani,fRespPaniLo,fRespPaniHi,'circle-open');
fPts(12,fStableChemo,fStableChemoLo,fStableChemoHi,fStablePani,fStablePaniLo,fStablePaniHi,'square-open');
fPts(12,fRelapseChemo,fRelapseChemoLo,fRelapseChemoHi,fRelapsePani,fRelapsePaniLo,fRelapsePaniHi,'triangle-up-open');
function arrow(n,x,y,ax,ay){ann.push({xref:xa(n),yref:ya(n),axref:xa(n),ayref:ya(n),x:x,y:y,ax:ax,ay:ay,text:'',showarrow:true,
  arrowhead:2,arrowsize:1.1,arrowwidth:2.5,arrowcolor:'#000'});}
arrow(11,0.946,1.127,1.05,1.05); arrow(11,1.10,0.94,1.05,1.05);
arrow(12,177,236,212,210); arrow(12,229,172,212,210);
const fTxt=(n,t,x,y)=>ann.push({xref:xa(n),yref:ya(n),x:x,y:y,text:t,showarrow:false,xanchor:'center',yanchor:'middle',font:tf(18)});
fTxt(11,'Favor Chemo',0.884,1.175); fTxt(11,'Favor Pani',1.142,0.878);
fTxt(12,'Favor Pani',122.6,249); fTxt(12,'Favor Chemo',235,160.7);
T('Pani+Chemo',1255,1118,23,{angle:-90}); T('Chemo only',1425,1287,23);
T('Pani+Chemo',1255,1467,23,{angle:-90}); T('Chemo only',1437,1648,23);
const fLeg=['#f9a3a3','#22e022','#9ec4f4'];
function mk(type,cx,cy,r){
  if(type==='tri'){shapes.push({type:'path',xref:'paper',yref:'paper',
    path:`M ${(cx-r)/W},${1-(cy+r*0.8)/H} L ${cx/W},${1-(cy-r)/H} L ${(cx+r)/W},${1-(cy+r*0.8)/H} Z`,line:{color:'#000',width:3}});return;}
  shapes.push({type:type,xref:'paper',yref:'paper',x0:(cx-r)/W,x1:(cx+r)/W,y0:1-(cy+r)/H,y1:1-(cy-r)/H,line:{color:'#000',width:3},fillcolor:'rgba(0,0,0,0)'});
}
fSites.forEach((s,i)=>{const y=[1051,1077,1103][i];L(1597,y,1620,y,fLeg[i],4);T(s,1631,y,15,{xa:'left',weight:'normal'});});
mk('circle',1609,1130,7); T('Nadir Ratio',1631,1130,15,{xa:'left',weight:'normal'});
mk('rect',1609,1158,6.5); T('Last Ratio',1631,1158,15,{xa:'left',weight:'normal'});
fSites.forEach((s,i)=>{const y=[1393,1422,1449][i];L(1609,y,1635,y,fLeg[i],4);T(s,1648,y,17,{xa:'left',weight:'normal'});});
mk('circle',1623,1477,7.5); T('Response Duration',1648,1477,17,{xa:'left',weight:'normal'});
mk('rect',1623,1505,7); T('Stable Duration',1648,1505,17,{xa:'left',weight:'normal'});
mk('tri',1623,1533,8); T('Relapse Duration',1648,1533,17,{xa:'left',weight:'normal'});

Plotly.newPlot('chart',traces,layout,{staticPlot:true});
</script>
</body>
</html>
